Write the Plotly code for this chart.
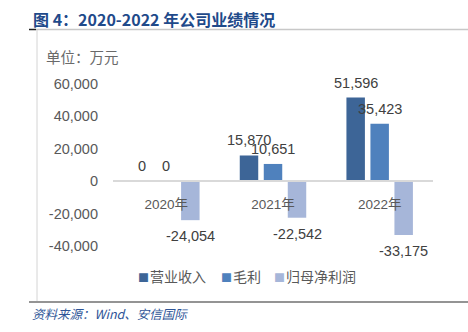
import plotly.graph_objects as go

# Company results 2020-2022, unit: 10k CNY
years = ["2020年", "2021年", "2022年"]
revenue = [0, 15870, 51596]
gross_profit = [0, 10651, 35423]
net_profit = [-24054, -22542, -33175]

series_names = ["营业收入", "毛利", "归母净利润"]
series_colors = ["#3D6597", "#4F81BD", "#A6B6D9"]
y_ticks = [-40000, -20000, 0, 20000, 40000, 60000]

W, H = 468, 332
L, R, T, B = 113, 35, 84, 86
Y_MIN, Y_MAX = -40000, 60000
SLOT = 24  # px between neighbouring bars inside a group


def px(x):
    return (x - L) / (W - L - R)


def py(y):
    return (H - B - y) / (H - T - B)


fig = go.Figure()
all_series = [revenue, gross_profit, net_profit]
for i, (name, vals, color) in enumerate(zip(series_names, all_series, series_colors)):
    fig.add_trace(go.Bar(
        name=name,
        x=years,
        y=vals,
        marker=dict(color=color, line=dict(width=0)),
        showlegend=False,
    ))
    # value labels above / below each bar
    for yr, v in zip(years, vals):
        fig.add_annotation(
            x=yr, y=v, xref="x", yref="y",
            text=f"{v:,}", showarrow=False,
            xshift=(i - 1) * SLOT,
            yshift=-16 if v < 0 else 15,
            xanchor="center", yanchor="middle",
            font=dict(family="Liberation Sans, Arial", size=14.5, color="#404040"),
        )

fig.update_layout(
    width=W,
    height=H,
    margin=dict(l=L, r=R, t=T, b=B),
    paper_bgcolor="white",
    plot_bgcolor="white",
    barmode="group",
    bargap=0.325,
    bargroupgap=0.23,
    showlegend=False,
    font=dict(family="Liberation Sans, Arial", color="#595959"),
)

fig.update_xaxes(
    type="category",
    anchor="free",
    position=(0 - Y_MIN) / (Y_MAX - Y_MIN),
    showline=True,
    linecolor="#D9D9D9",
    linewidth=1.5,
    ticks="outside",
    ticklen=11,
    tickcolor="rgba(0,0,0,0)",
    tickfont=dict(family="Liberation Sans, Noto Sans CJK SC", size=13.5, color="#595959"),
    showgrid=False,
    zeroline=False,
    layer="above traces",
)

fig.update_yaxes(
    range=[Y_MIN, Y_MAX],
    tickvals=y_ticks,
    ticktext=[f"{v:,}" for v in y_ticks],
    tickfont=dict(family="Liberation Sans, Arial", size=14.5, color="#595959"),
    ticklabelstandoff=14,
    showgrid=False,
    zeroline=False,
    showline=False,
)

# Legend row: colour square + series name
legend_x = [136, 219, 272]
for name, color, lx in zip(series_names, series_colors, legend_x):
    fig.add_annotation(
        xref="paper", yref="paper", x=px(lx), y=py(276),
        xanchor="left", yanchor="middle", showarrow=False,
        text=f"<span style='color:{color};font-size:11px'>■</span><span style='font-size:4px'> </span>{name}",
        font=dict(family="Noto Sans CJK SC", size=14, color="#595959"),
    )

# Title
fig.add_annotation(
    xref="paper", yref="paper", x=px(31), y=py(19),
    xanchor="left", yanchor="middle", showarrow=False,
    text="<b>图 4：2020-2022 年公司业绩情况</b>",
    font=dict(family="Noto Sans CJK SC", size=16, color="#1F4A8A"),
)

# Unit label
fig.add_annotation(
    xref="paper", yref="paper", x=px(44), y=py(57),
    xanchor="left", yanchor="middle", showarrow=False,
    text="单位：万元",
    font=dict(family="Noto Sans CJK SC", size=14.5, color="#6A6A6A"),
)

# Source note
fig.add_annotation(
    xref="paper", yref="paper", x=px(30), y=py(313),
    xanchor="left", yanchor="middle", showarrow=False,
    text="<i>资料来源：Wind、安信国际</i>",
    font=dict(family="Noto Sans CJK SC, Liberation Sans", size=12.5, color="#2E5597"),
)

# Frame lines around the figure block
frame = [
    dict(x0=px(36), x1=px(468), y0=py(29.5), y1=py(29.5), color="#C8C8C8", width=1.5),
    dict(x0=px(29), x1=px(36), y0=py(29.5), y1=py(29.5), color="#202020", width=1.5),
    dict(x0=px(37), x1=px(37), y0=py(30), y1=py(301), color="#D4D4D4", width=1),
    dict(x0=px(29), x1=px(468), y0=py(302), y1=py(302), color="#707070", width=1.5),
]
for s in frame:
    fig.add_shape(
        type="line", xref="paper", yref="paper",
        x0=s["x0"], x1=s["x1"], y0=s["y0"], y1=s["y1"],
        line=dict(color=s["color"], width=s["width"]),
    )

fig.write_html("out.html")
